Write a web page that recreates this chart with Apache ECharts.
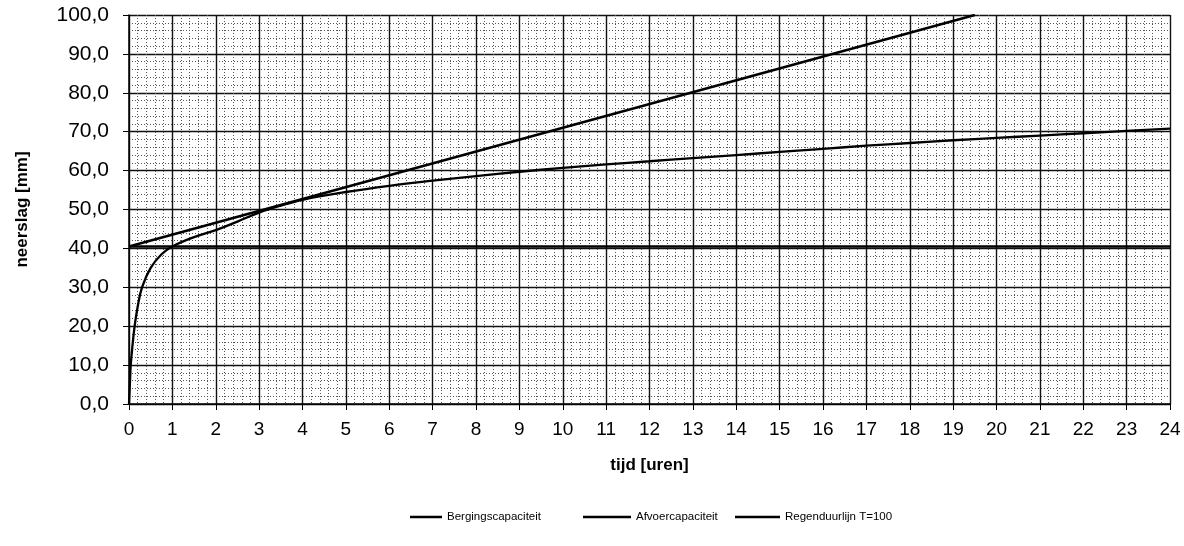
<!DOCTYPE html>
<html>
<head>
<meta charset="utf-8">
<script src="https://cdn.jsdelivr.net/npm/echarts@6/dist/echarts.min.js"></script>
<style>
html,body{margin:0;padding:0;background:#fff;}
#c{width:1184px;height:546px;}
</style>
</head>
<body>
<div id="c"></div>
<script>
// Data (tijd [uren], neerslag [mm])
const xTicks = [0,1,2,3,4,5,6,7,8,9,10,11,12,13,14,15,16,17,18,19,20,21,22,23,24];
const yTicks = [0,10,20,30,40,50,60,70,80,90,100];
const seriesNames = ['Bergingscapaciteit', 'Afvoercapaciteit', 'Regenduurlijn T=100'];

const bergingT = [0, 24];
const bergingV = [40.5, 40.5];

const afvoerT = [0, 19.5];
const afvoerV = [40.5, 100];

const regenT = [0, 0.02, 0.04, 0.08, 0.13, 0.2, 0.3, 0.5, 0.75, 1, 1.5, 2, 2.5, 3, 3.5, 4, 5, 6, 7, 8, 9, 10, 11, 12, 13, 14, 15, 16, 17, 18, 19, 20, 21, 22, 23, 24];
const regenV = [0, 5, 10, 15, 20, 25, 30, 35, 38.5, 40.5, 42.9, 44.7, 46.9, 49.2, 51.0, 52.5, 54.5, 56.1, 57.4, 58.6, 59.7, 60.7, 61.6, 62.4, 63.2, 64.0, 64.8, 65.6, 66.4, 67.1, 67.8, 68.4, 69.0, 69.6, 70.2, 70.8];

const pairs = (t, v) => t.map((x, i) => [x, v[i]]);

const chart = echarts.init(document.getElementById('c'), null, {renderer: 'canvas'});
const font = '"Liberation Sans", Arial, sans-serif';

const legendLayout = [
  {left: 405, itemWidth: 32},
  {left: 578, itemWidth: 48},
  {left: 730, itemWidth: 45}
];

chart.setOption({
  animation: false,
  backgroundColor: '#ffffff',
  grid: {left: 129, right: 14, top: 15, bottom: 142, containLabel: false},
  legend: legendLayout.map((l, i) => ({
    left: l.left, top: 506,
    itemWidth: l.itemWidth, itemHeight: 2.5, itemGap: 10,
    icon: 'rect',
    textStyle: {fontFamily: font, fontSize: 11.5, color: '#000'},
    data: [seriesNames[i]]
  })),
  xAxis: {
    type: 'value', min: 0, max: 24, interval: 1,
    name: 'tijd [uren]', nameLocation: 'middle', nameGap: 53,
    nameTextStyle: {fontFamily: font, fontSize: 17, fontWeight: 'bold', color: '#000'},
    axisLine: {show: true, onZero: false, lineStyle: {color: '#000', width: 1.5}},
    axisTick: {show: true, inside: false, length: 6, lineStyle: {color: '#000'}},
    axisLabel: {fontFamily: font, fontSize: 19, color: '#000', margin: 16,
      formatter: v => xTicks.includes(v) ? String(v) : ''},
    splitLine: {show: true, lineStyle: {color: '#111', width: 1.4}},
    minorTick: {show: false, splitNumber: 5},
    minorSplitLine: {show: true, lineStyle: {color: '#555', width: 1, type: [1, 2]}}
  },
  yAxis: {
    type: 'value', min: 0, max: 100, interval: 10,
    name: 'neerslag [mm]', nameLocation: 'middle', nameGap: 98, nameRotate: 90,
    nameTextStyle: {fontFamily: font, fontSize: 17, fontWeight: 'bold', color: '#000'},
    axisLine: {show: true, onZero: false, lineStyle: {color: '#000', width: 1.5}},
    axisTick: {show: true, inside: false, length: 6, lineStyle: {color: '#000'}},
    axisLabel: {fontFamily: font, fontSize: 21, color: '#000', margin: 20,
      formatter: v => yTicks.includes(v) ? v.toFixed(1).replace('.', ',') : ''},
    splitLine: {show: true, lineStyle: {color: '#111', width: 1.4}},
    minorTick: {show: false, splitNumber: 5},
    minorSplitLine: {show: true, lineStyle: {color: '#555', width: 1, type: [1, 2]}}
  },
  series: [
    {
      name: seriesNames[0], type: 'line', data: pairs(bergingT, bergingV),
      showSymbol: false, symbol: 'none', clip: true,
      lineStyle: {color: '#000', width: 2.5}, itemStyle: {color: '#000'}
    },
    {
      name: seriesNames[1], type: 'line', data: pairs(afvoerT, afvoerV),
      showSymbol: false, symbol: 'none', clip: true,
      lineStyle: {color: '#000', width: 2.5}, itemStyle: {color: '#000'}
    },
    {
      name: seriesNames[2], type: 'line', data: pairs(regenT, regenV),
      showSymbol: false, symbol: 'none', clip: true, smooth: 0.4,
      lineStyle: {color: '#000', width: 2.3}, itemStyle: {color: '#000'}
    }
  ]
});
</script>
</body>
</html>
